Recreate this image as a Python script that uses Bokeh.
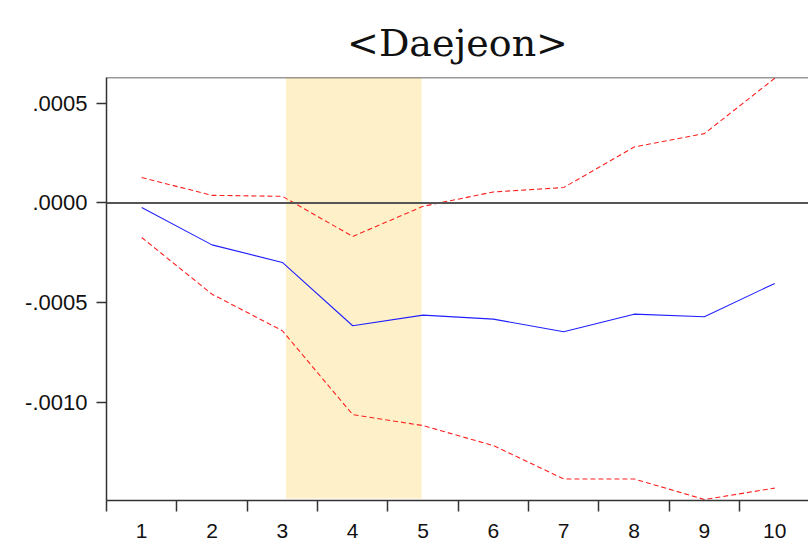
from bokeh.plotting import figure
from bokeh.models import FixedTicker, BoxAnnotation, Span, Range1d
from bokeh.embed import file_html
from bokeh.resources import INLINE

# Impulse response (Daejeon) with upper / lower confidence bands
periods = [1, 2, 3, 4, 5, 6, 7, 8, 9, 10]
response = [-0.000023, -0.00021, -0.000298, -0.000615, -0.000562,
            -0.000582, -0.000645, -0.000557, -0.00057, -0.000403]
upper_band = [0.000127, 0.000038, 0.000033, -0.000168, -0.000017,
              0.000055, 0.000077, 0.00028, 0.000347, 0.000624]
lower_band = [-0.000173, -0.000457, -0.00064, -0.00106, -0.001115,
              -0.001215, -0.001382, -0.001382, -0.001485, -0.001428]

# highlighted horizon window
shade_start, shade_end = 3.05, 4.98

y_ticks = [0.0005, 0.0, -0.0005, -0.0010]
y_tick_labels = {0.0005: ".0005", 0.0: ".0000", -0.0005: "-.0005", -0.001: "-.0010"}

p = figure(width=808, height=541, output_backend="svg", toolbar_location=None,
           x_range=Range1d(0.5, 10.48), y_range=Range1d(-0.00149, 0.000628),
           min_border_left=106, min_border_right=0, min_border_top=77,
           min_border_bottom=41, background_fill_color="white",
           border_fill_color="white")

p.title.text = "<Daejeon>"
p.title.align = "center"
p.title.text_font = "DejaVu Serif"
p.title.text_font_size = "38px"
p.title.text_font_style = "normal"
p.title.text_color = "#111111"
p.title.standoff = 26

p.grid.visible = False
p.outline_line_color = None

# top frame border
p.add_layout(Span(location=0.000628, dimension="width", line_color="#333333",
                  line_width=1.5))

p.add_layout(BoxAnnotation(left=shade_start, right=shade_end, bottom=-0.00148,
                           fill_color="#FEF0C9", fill_alpha=1.0, line_color=None,
                           level="underlay"))

p.add_layout(Span(location=0.0, dimension="width", line_color="#555555",
                  line_width=2))

p.line(periods, upper_band, line_color="#FF2020", line_width=1.1, line_dash="5 3")
p.line(periods, lower_band, line_color="#FF2020", line_width=1.1, line_dash="5 3")
p.line(periods, response, line_color="#2020FF", line_width=1.1)

# x axis: labels on periods, tick marks between them
p.xaxis.ticker = FixedTicker(ticks=periods,
                             minor_ticks=[x + 0.5 for x in [0] + periods])
p.xaxis.major_tick_out = 0
p.xaxis.major_tick_in = 0
p.xaxis.minor_tick_out = 11
p.xaxis.minor_tick_in = 0
p.xaxis.minor_tick_line_color = "#333333"
p.xaxis.minor_tick_line_width = 1.5
p.xaxis.major_label_standoff = 12

p.yaxis.ticker = FixedTicker(ticks=y_ticks, minor_ticks=[])
p.yaxis.major_label_overrides = y_tick_labels
p.yaxis.major_tick_out = 10
p.yaxis.major_tick_in = 0
p.yaxis.major_label_standoff = 9

for ax in (p.xaxis, p.yaxis):
    ax.axis_line_color = "#333333"
    ax.axis_line_width = 1.5
    ax.major_tick_line_color = "#333333"
    ax.major_tick_line_width = 1.5
    ax.major_label_text_font = "Liberation Sans"
    ax.major_label_text_color = "#111111"

p.xaxis.major_label_text_font_size = "21px"
p.yaxis.major_label_text_font_size = "22px"

open("out.html", "w").write(file_html(p, INLINE))
